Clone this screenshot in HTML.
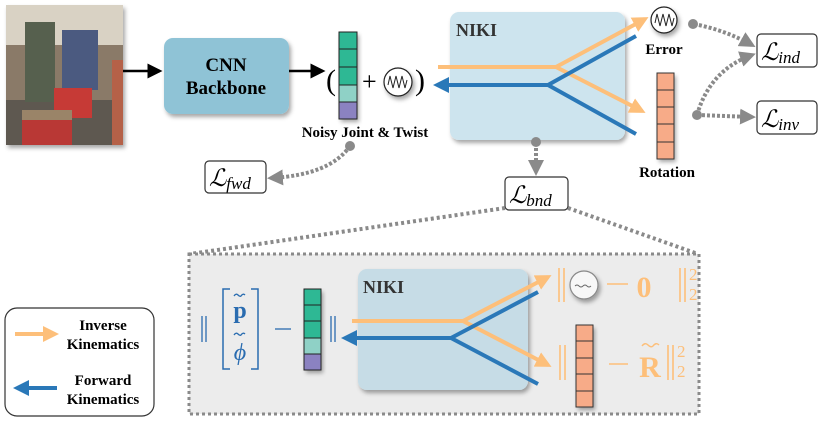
<!DOCTYPE html>
<html><head><meta charset="utf-8"><style>
html,body{margin:0;padding:0;background:#fff;}
svg{display:block;font-family:"Liberation Serif",serif;}
.b{font-weight:bold;}
</style></head><body>
<svg width="830" height="422" viewBox="0 0 830 422" xmlns="http://www.w3.org/2000/svg">
<defs>
<marker id="ak" markerWidth="6" markerHeight="6" refX="5" refY="3" orient="auto" markerUnits="strokeWidth"><path d="M0,0L6,3L0,6z" fill="#000"/></marker>
<marker id="ao" markerWidth="4" markerHeight="4" refX="3" refY="2" orient="auto" markerUnits="strokeWidth"><path d="M0,0L4,2L0,4z" fill="#fdbf7a"/></marker>
<marker id="ab" markerWidth="4" markerHeight="4" refX="3" refY="2" orient="auto" markerUnits="strokeWidth"><path d="M0,0L4,2L0,4z" fill="#2a78b8"/></marker>
<marker id="ag" markerWidth="4" markerHeight="4" refX="3" refY="2" orient="auto" markerUnits="strokeWidth"><path d="M0,0L4,2L0,4z" fill="#8a8a8a"/></marker>
<filter id="sh" x="-20%" y="-20%" width="150%" height="150%"><feDropShadow dx="2" dy="3" stdDeviation="2" flood-color="#000" flood-opacity="0.35"/></filter>
</defs>

<!-- photo -->
<g filter="url(#sh)">
<rect x="6" y="5" width="117" height="140" fill="#8a7a68"/>
</g>
<rect x="6" y="5" width="117" height="40" fill="#d9d2c4"/>
<rect x="6" y="100" width="117" height="45" fill="#5e5850"/>
<rect x="25" y="22" width="30" height="80" fill="#56604e"/>
<rect x="62" y="30" width="36" height="60" fill="#4b5a80"/>
<rect x="22" y="110" width="50" height="35" fill="#b93835"/>
<rect x="54" y="88" width="38" height="30" fill="#c63a36"/>
<rect x="22" y="110" width="50" height="10" fill="#9a8468"/>
<rect x="112" y="60" width="11" height="85" fill="#b56148"/>

<line x1="123" y1="71" x2="160" y2="71" stroke="#000" stroke-width="2.5" marker-end="url(#ak)"/>
<rect x="164" y="38" width="125" height="76" rx="9" fill="#8fc3d6" filter="url(#sh)"/>
<text x="226" y="71" text-anchor="middle" class="b" font-size="19">CNN</text>
<text x="226" y="94" text-anchor="middle" class="b" font-size="19">Backbone</text>
<line x1="289" y1="71" x2="323" y2="71" stroke="#000" stroke-width="2.5" marker-end="url(#ak)"/>

<text x="326" y="90" font-size="30">(</text>
<g filter="url(#sh)">
<rect x="339" y="32" width="18" height="87" fill="#2eb894"/>
</g>
<rect x="339" y="32" width="18" height="17" fill="#2eb894" stroke="#222" stroke-width="1"/>
<rect x="339" y="49" width="18" height="18" fill="#2eb894" stroke="#222" stroke-width="1"/>
<rect x="339" y="67" width="18" height="18" fill="#2eb894" stroke="#222" stroke-width="1"/>
<rect x="339" y="85" width="18" height="17" fill="#8fd1c6" stroke="#222" stroke-width="1"/>
<rect x="339" y="102" width="18" height="17" fill="#8b82c1" stroke="#222" stroke-width="1"/>
<text x="362" y="90" font-size="26">+</text>
<circle cx="398" cy="82" r="14" fill="#fff" stroke="#222" stroke-width="1.2" filter="url(#sh)"/>
<path d="M388,85 L390,76 L393,88 L396,76 L399,88 L402,76 L405,88 L407,80" fill="none" stroke="#222" stroke-width="1"/>
<text x="415" y="90" font-size="30">)</text>
<text x="365" y="137" text-anchor="middle" class="b" font-size="15">Noisy Joint &amp; Twist</text>

<!-- NIKI top -->
<rect x="450" y="12" width="175" height="128" rx="9" fill="#cde4ee" filter="url(#sh)"/>
<text x="456" y="36" class="b" font-size="18" fill="#333">NIKI</text>
<polyline points="438,67 556,67" fill="none" stroke="#fdbf7a" stroke-width="4"/>
<line x1="556" y1="67" x2="645" y2="19" stroke="#fdbf7a" stroke-width="4" marker-end="url(#ao)"/>
<line x1="556" y1="67" x2="642" y2="111" stroke="#fdbf7a" stroke-width="4" marker-end="url(#ao)"/>
<line x1="548" y1="85" x2="636" y2="36" stroke="#2a78b8" stroke-width="4"/>
<line x1="548" y1="85" x2="636" y2="134" stroke="#2a78b8" stroke-width="4"/>
<line x1="548" y1="85" x2="437" y2="85" stroke="#2a78b8" stroke-width="4" marker-end="url(#ab)"/>

<circle cx="664" cy="20" r="13" fill="#fff" stroke="#222" stroke-width="1.2" filter="url(#sh)"/>
<path d="M655,23 L657,14 L660,26 L663,14 L666,26 L669,14 L672,26 L674,18" fill="none" stroke="#222" stroke-width="1"/>
<text x="664" y="54" text-anchor="middle" class="b" font-size="15">Error</text>
<g filter="url(#sh)"><rect x="657" y="73" width="17" height="86" fill="#f7ab88"/></g>
<g fill="#f7ab88" stroke="#333" stroke-width="1">
<rect x="657" y="73" width="17" height="17"/><rect x="657" y="90" width="17" height="17"/><rect x="657" y="107" width="17" height="17"/><rect x="657" y="124" width="17" height="18"/><rect x="657" y="142" width="17" height="17"/></g>
<text x="667" y="177" text-anchor="middle" class="b" font-size="15">Rotation</text>

<!-- loss boxes -->
<g fill="#fff" stroke="#333" stroke-width="1.2">
<rect x="757" y="34" width="60" height="33" rx="4"/>
<rect x="757" y="101" width="60" height="33" rx="4"/>
<rect x="505" y="177" width="63" height="33" rx="4"/>
<rect x="205" y="161" width="61" height="32" rx="4"/>
</g>
<g font-style="italic" font-size="24">
<text x="761" y="60">ℒ<tspan font-size="17" dy="3">ind</tspan></text>
<text x="761" y="127">ℒ<tspan font-size="17" dy="3">inv</tspan></text>
<text x="509" y="203">ℒ<tspan font-size="17" dy="3">bnd</tspan></text>
<text x="209" y="186">ℒ<tspan font-size="17" dy="3">fwd</tspan></text>
</g>

<!-- grey dotted connectors -->
<g stroke="#8a8a8a" stroke-width="4" stroke-dasharray="3,2" fill="none">
<path d="M694,24 Q725,30 752,45" marker-end="url(#ag)"/>
<path d="M697,115 Q710,70 752,55" marker-end="url(#ag)"/>
<path d="M697,115 L752,117" marker-end="url(#ag)"/>
<path d="M536,143 L536,172" marker-end="url(#ag)"/>
<path d="M350,146 Q330,175 271,178" marker-end="url(#ag)"/>
</g>
<g fill="#8a8a8a">
<circle cx="693" cy="24" r="5"/><circle cx="697" cy="115" r="5"/><circle cx="536" cy="142" r="5"/><circle cx="350" cy="146" r="5"/>
</g>
<g stroke="#8a8a8a" stroke-width="4" stroke-dasharray="3,3" fill="none">
<line x1="505" y1="208" x2="190" y2="254"/>
<line x1="568" y1="208" x2="698" y2="254"/>
</g>

<!-- panel -->
<rect x="189" y="254" width="510" height="160" fill="#ececec" stroke="#8a8a8a" stroke-width="3" stroke-dasharray="3,3"/>
<rect x="358" y="269" width="170" height="121" rx="9" fill="#c6dce6" filter="url(#sh)"/>
<text x="363" y="293" class="b" font-size="18" fill="#333">NIKI</text>
<line x1="352" y1="321" x2="463" y2="321" stroke="#fdbf7a" stroke-width="4"/>
<line x1="463" y1="321" x2="548" y2="277" stroke="#fdbf7a" stroke-width="4" marker-end="url(#ao)"/>
<line x1="463" y1="321" x2="548" y2="365" stroke="#fdbf7a" stroke-width="4" marker-end="url(#ao)"/>
<line x1="451" y1="338" x2="538" y2="292" stroke="#2a78b8" stroke-width="4"/>
<line x1="451" y1="338" x2="538" y2="384" stroke="#2a78b8" stroke-width="4"/>
<line x1="451" y1="338" x2="345" y2="338" stroke="#2a78b8" stroke-width="4" marker-end="url(#ab)"/>

<g stroke="#2a6cb0" stroke-width="1.3" fill="none">
<path d="M202,316V342M206,316V342M331,316V342M335,316V342"/>
<path d="M230,289 L223,289 L223,369 L230,369 M251,289 L258,289 L258,369 L251,369" stroke-width="1.5"/>
<path d="M275,329H291"/>
<path d="M234,296 q2,-3 4,-1 q2,2 3,1 q2,-3 4,-1" />
<path d="M234,335 q2,-3 4,-1 q2,2 3,1 q2,-3 4,-1" />
</g>
<g fill="#2a6cb0">
<text x="240" y="318" text-anchor="middle" class="b" font-size="24">p</text>
<text x="240" y="360" text-anchor="middle" font-style="italic" font-size="24">ϕ</text>
</g>
<g filter="url(#sh)"><rect x="304" y="289" width="17" height="81" fill="#2eb894"/></g>
<g stroke="#222" stroke-width="1">
<rect x="304" y="289" width="17" height="16" fill="#2eb894"/><rect x="304" y="305" width="17" height="16" fill="#2eb894"/><rect x="304" y="321" width="17" height="17" fill="#2eb894"/><rect x="304" y="338" width="17" height="16" fill="#8fd1c6"/><rect x="304" y="354" width="17" height="16" fill="#8b82c1"/></g>

<g stroke="#fdbf7a" stroke-width="1.6" fill="none">
<path d="M559,268V302M564,268V302M680,268V302M685,268V302"/>
<path d="M607,284H628"/>
<path d="M560,345V380M565,345V380M668,345V380M673,345V380"/>
<path d="M609,364H628"/>
<path d="M642,346 q3,-4 6,-1 q3,3 5,1 q3,-4 6,-1" stroke-width="1.4"/>
</g>
<g fill="#fdbf7a">
<text x="644" y="297" text-anchor="middle" class="b" font-size="30">0</text>
<text x="650" y="377" text-anchor="middle" class="b" font-size="30">R</text>
<text x="689" y="280" font-size="17">2</text>
<text x="689" y="300" font-size="17">2</text>
<text x="677" y="357" font-size="17">2</text>
<text x="677" y="377" font-size="17">2</text>
</g>
<circle cx="584" cy="285" r="14" fill="#f7f7f7" stroke="#888" stroke-width="1.2" filter="url(#sh)"/>
<path d="M575,286 q2,-2 4,0 q2,2 4,0 q2,-2 4,0 q2,2 4,0" fill="none" stroke="#666" stroke-width="0.9"/>
<g filter="url(#sh)"><rect x="576" y="325" width="17" height="82" fill="#f7ab88"/></g>
<g fill="#f7ab88" stroke="#333" stroke-width="1">
<rect x="576" y="325" width="17" height="16"/><rect x="576" y="341" width="17" height="17"/><rect x="576" y="358" width="17" height="16"/><rect x="576" y="374" width="17" height="17"/><rect x="576" y="391" width="17" height="16"/></g>

<!-- legend -->
<rect x="5" y="308" width="149" height="108" rx="12" fill="#fff" stroke="#333" stroke-width="1.2"/>
<line x1="15" y1="334" x2="55" y2="334" stroke="#fdbf7a" stroke-width="4" marker-end="url(#ao)"/>
<line x1="57" y1="388" x2="17" y2="388" stroke="#2a78b8" stroke-width="4" marker-end="url(#ab)"/>
<g class="b" font-size="15" text-anchor="middle">
<text x="103" y="330">Inverse</text>
<text x="103" y="349">Kinematics</text>
<text x="103" y="385">Forward</text>
<text x="103" y="404">Kinematics</text>
</g>
</svg>
</body></html>
